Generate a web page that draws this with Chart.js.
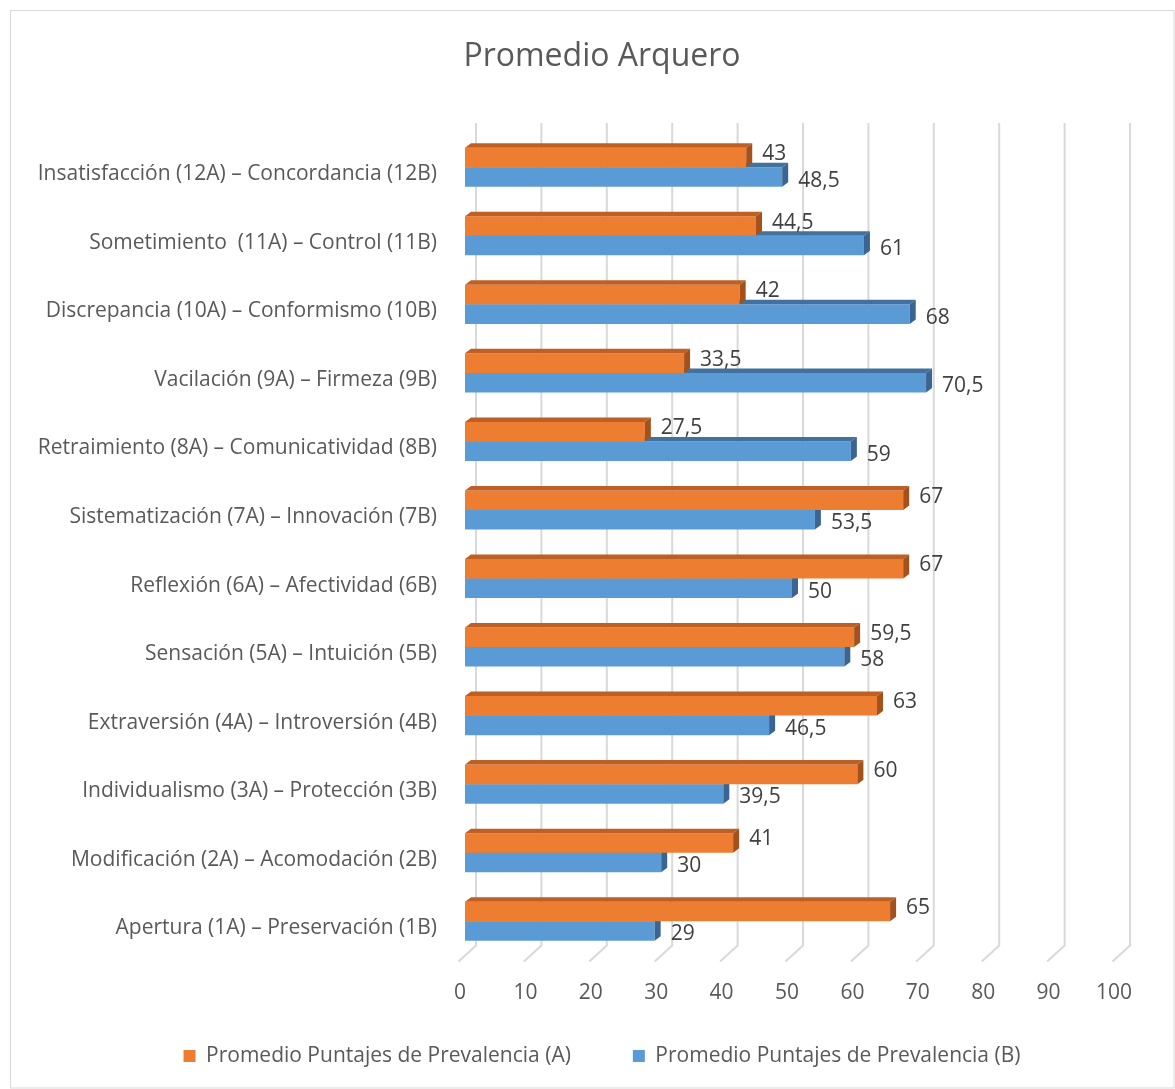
<!DOCTYPE html>
<html><head><meta charset="utf-8">
<script src="https://cdn.jsdelivr.net/npm/chart.js@4.4.0/dist/chart.umd.min.js"></script>
<style>html,body{margin:0;padding:0;background:#fff;}</style>
</head><body>
<canvas id="c" width="1175" height="1089"></canvas>
<script>
const categories = [
  "Insatisfacción (12A) – Concordancia (12B)",
  "Sometimiento  (11A) – Control (11B)",
  "Discrepancia (10A) – Conformismo (10B)",
  "Vacilación (9A) – Firmeza (9B)",
  "Retraimiento (8A) – Comunicatividad (8B)",
  "Sistematización (7A) – Innovación (7B)",
  "Reflexión (6A) – Afectividad (6B)",
  "Sensación (5A) – Intuición (5B)",
  "Extraversión (4A) – Introversión (4B)",
  "Individualismo (3A) – Protección (3B)",
  "Modificación (2A) – Acomodación (2B)",
  "Apertura (1A) – Preservación (1B)"
];
const seriesA = [43, 44.5, 42, 33.5, 27.5, 67, 67, 59.5, 63, 60, 41, 65];
const seriesB = [48.5, 61, 68, 70.5, 59, 53.5, 50, 58, 46.5, 39.5, 30, 29];
const seriesNames = ["Promedio Puntajes de Prevalencia (A)", "Promedio Puntajes de Prevalencia (B)"];
const titleText = "Promedio Arquero";
const xMin = 0, xMax = 100, xStep = 10;

const FONT = "'Open Sans', 'Noto Sans', sans-serif";
const faceColors = [
  {front: "#ED7D31", top: "#BE5F23", side: "#A4511C"},
  {front: "#5B9BD5", top: "#43719E", side: "#3A6592"}
];

const borderPlugin = {
  id: "outerBorder",
  beforeDraw(chart) {
    const ctx = chart.ctx;
    ctx.save();
    ctx.fillStyle = "#fff";
    ctx.fillRect(0, 0, chart.width, chart.height);
    ctx.strokeStyle = "#D9D9D9";
    ctx.lineWidth = 1;
    ctx.strokeRect(10.5, 10.5, chart.width - 11.5, chart.height - 11.5);
    ctx.restore();
  }
};

const wallGridPlugin = {
  id: "wallGrid",
  beforeDatasetsDraw(chart) {
    const ctx = chart.ctx, xs = chart.scales.x, area = chart.chartArea;
    ctx.save();
    ctx.strokeStyle = "#D9D9D9";
    ctx.lineWidth = 2;
    for (let v = xMin; v <= xMax; v += xStep) {
      const px = xs.getPixelForValue(v);
      ctx.beginPath();
      ctx.moveTo(px + 11, area.top - 10);
      ctx.lineTo(px + 11, area.bottom - 10);
      ctx.lineTo(px - 6.5, area.bottom + 6);
      ctx.stroke();
    }
    ctx.restore();
  }
};

const bar3dPlugin = {
  id: "bar3d",
  afterDatasetDraw(chart, args) {
    const ctx = chart.ctx;
    const meta = args.meta;
    const col = faceColors[args.index];
    const dx = 6, dy = 4.5;
    ctx.save();
    meta.data.forEach(el => {
      const p = el.getProps(["x", "y", "base", "height"], true);
      const x0 = Math.min(p.base, p.x), x1 = Math.max(p.base, p.x);
      const yt = p.y - p.height / 2, yb = p.y + p.height / 2;
      ctx.fillStyle = col.top;
      ctx.beginPath();
      ctx.moveTo(x0, yt); ctx.lineTo(x1, yt);
      ctx.lineTo(x1 + dx, yt - dy); ctx.lineTo(x0 + dx, yt - dy);
      ctx.closePath(); ctx.fill();
      ctx.fillStyle = col.side;
      ctx.beginPath();
      ctx.moveTo(x1, yt); ctx.lineTo(x1 + dx, yt - dy);
      ctx.lineTo(x1 + dx, yb - dy); ctx.lineTo(x1, yb);
      ctx.closePath(); ctx.fill();
    });
    ctx.restore();
  }
};

const labelPlugin = {
  id: "valueLabels",
  afterDatasetsDraw(chart) {
    const ctx = chart.ctx;
    ctx.save();
    ctx.font = "21px " + FONT;
    ctx.fillStyle = "#404040";
    ctx.textAlign = "left";
    ctx.textBaseline = "middle";
    chart.data.datasets.forEach((ds, di) => {
      const meta = chart.getDatasetMeta(di);
      meta.data.forEach((el, i) => {
        const p = el.getProps(["x", "y"], true);
        const txt = String(ds.data[i]).replace(".", ",");
        ctx.fillText(txt, p.x + 16, p.y + (di === 0 ? -3.5 : 3.5));
      });
    });
    ctx.restore();
  }
};

new Chart(document.getElementById("c"), {
  type: "bar",
  data: {
    labels: categories,
    datasets: [
      {label: seriesNames[0], data: seriesA, backgroundColor: faceColors[0].front, borderWidth: 0},
      {label: seriesNames[1], data: seriesB, backgroundColor: faceColors[1].front, borderWidth: 0}
    ]
  },
  options: {
    indexAxis: "y",
    responsive: false,
    animation: false,
    devicePixelRatio: 1,
    layout: {padding: {left: 85, right: 56, top: 0, bottom: 12.5}},
    datasets: {bar: {categoryPercentage: 0.57, barPercentage: 1.0}},
    scales: {
      x: {
        type: "linear", min: xMin, max: xMax,
        grid: {display: false}, border: {display: false},
        ticks: {stepSize: xStep, padding: 17, labelOffset: -5, color: "#595959", font: {family: FONT, size: 21}},
        afterFit(s) { s.height = 28; s._computeLabelArea = () => null; }
      },
      y: {
        grid: {display: false}, border: {display: false},
        ticks: {autoSkip: false, padding: 20, labelOffset: 7, color: "#595959", font: {family: FONT, size: 21}},
        afterFit(s) { s.width = 380; s._computeLabelArea = () => null; }
      }
    },
    plugins: {
      title: {display: true, text: titleText, color: "#595959",
        font: {family: "'Open Sans', sans-serif", size: 32, weight: "normal"},
        padding: {top: 38, bottom: 56.6}},
      legend: {position: "bottom",
        labels: {boxWidth: 12, boxHeight: 12, padding: 62, color: "#595959", font: {family: FONT, size: 21}}},
      tooltip: {enabled: false}
    }
  },
  plugins: [borderPlugin, wallGridPlugin, bar3dPlugin, labelPlugin]
});
</script>
</body></html>
